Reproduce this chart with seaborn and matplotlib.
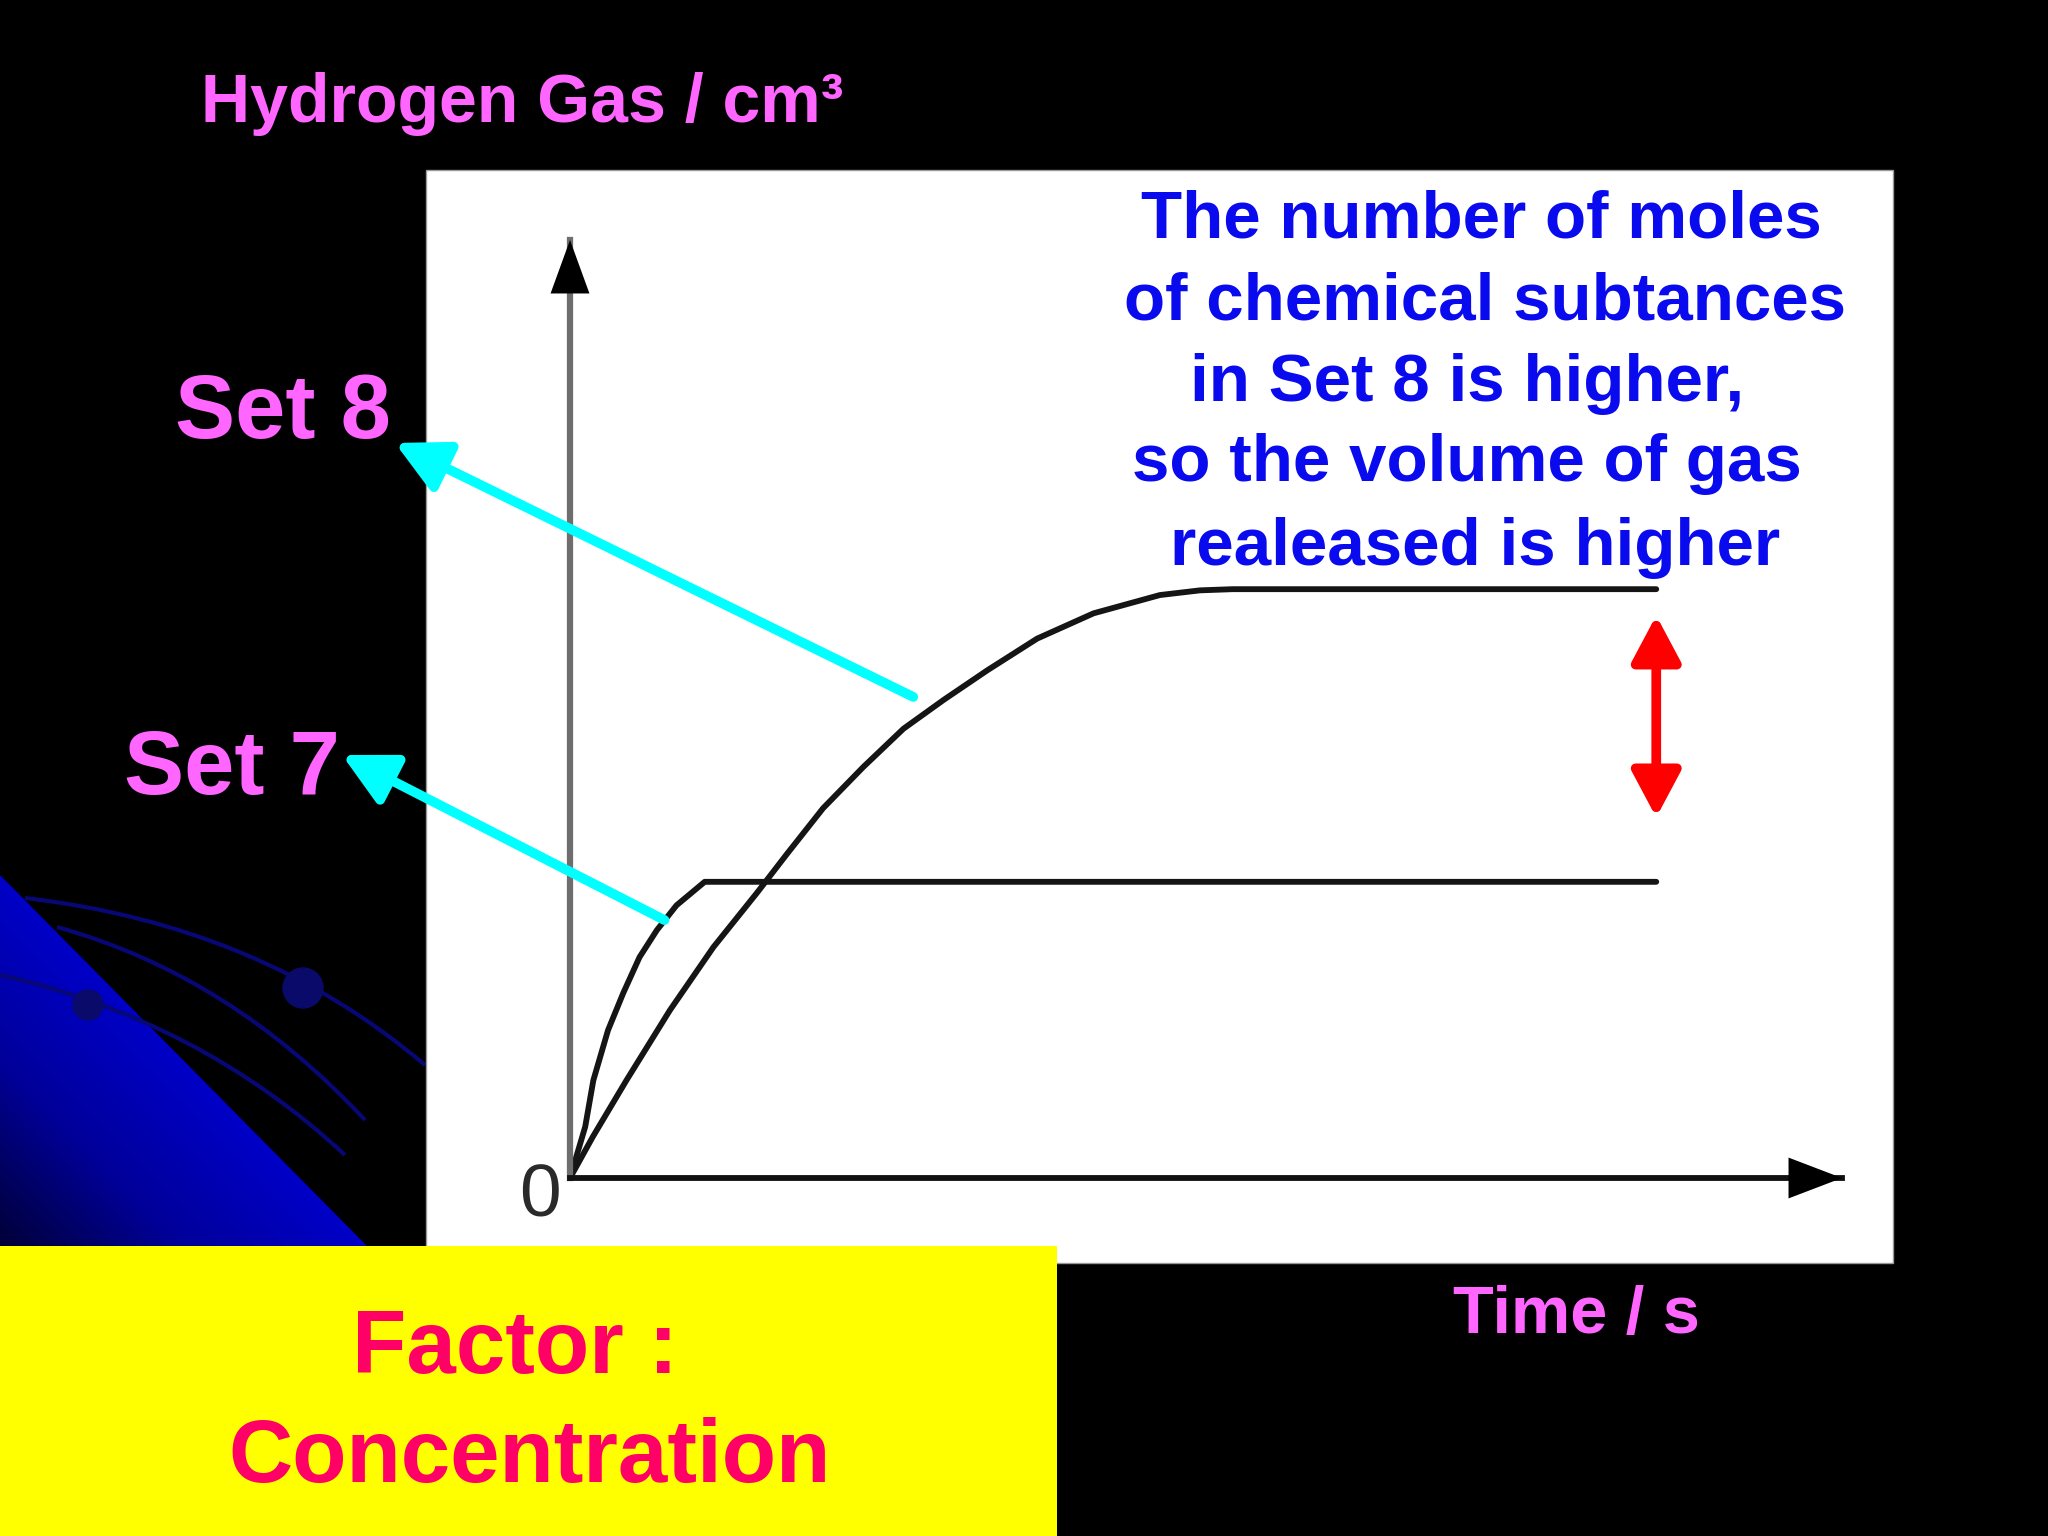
import numpy as np
import pandas as pd
import matplotlib
matplotlib.use("Agg")
import matplotlib.pyplot as plt
import seaborn as sns
from matplotlib.patches import Rectangle, Polygon, PathPatch, Circle
from matplotlib.path import Path
from matplotlib.colors import LinearSegmentedColormap

W, H = 2048, 1536

# ── Données (t et volume en unités arbitraires) ──
set7_time = [0, 1.4, 2.15, 3.5, 4.9, 6.4, 8.0, 9.8, 12.4, 100]
set7_vol  = [0, 8.7, 16.6, 25.1, 31.4, 37.5, 42.1, 46.3, 50.3, 50.3]
set8_time = [0, 2.1, 5.2, 9.2, 13.2, 17.2, 20.0, 23.3, 27.0, 30.7, 34.4, 38.4,
             43.0, 48.2, 54.3, 58.0, 61.0, 100]
set8_vol  = [0, 7.0, 16.6, 28.5, 39.2, 48.4, 55.1, 62.8, 69.8, 76.3, 81.2, 86.2,
             91.6, 95.9, 99.0, 99.8, 100, 100]
set_names = ["Set 7", "Set 8"]

y_title  = "Hydrogen Gas / cm³"
x_title  = "Time / s"
note_lines = ["The number of moles",
              "of chemical subtances",
              "in Set 8 is higher,",
              "so the volume of gas",
              "realeased is higher"]
factor_lines = ["Factor :", "Concentration"]

PINK   = "#FF66FF"
BLUE   = "#0A0AEE"
CYAN   = "#00FFFF"
RED    = "#FF0000"
YELLOW = "#FFFF00"
ROSE   = "#FF0066"


# ── Décor de la diapositive ───────────────────────────────────
def draw_slide(bg):
    # triangle bleu dégradé en bas à gauche
    tri = Polygon([(0, 875), (367, 1246), (0, 1246)], closed=True,
                  facecolor="none", edgecolor="none")
    bg.add_patch(tri)
    yy, xx = np.mgrid[870:1246:200j, 0:370:200j]
    depth = np.clip((yy - 875) / 371 - xx / 367, 0, 1)
    cmap = LinearSegmentedColormap.from_list("bl", ["#0000C8", "#00009A", "#000038"])
    im = bg.imshow(depth, extent=[0, 370, 1246, 870], cmap=cmap,
                   vmin=0, vmax=1, aspect="auto", zorder=1)
    im.set_clip_path(tri)

    # orbites
    arcs = [[(25, 898), (260, 925), (425, 1065)],
            [(57, 927), (230, 975), (365, 1120)],
            [(0, 975), (200, 1020), (345, 1155)]]
    for pts in arcs:
        p = Path(pts, [Path.MOVETO, Path.CURVE3, Path.CURVE3])
        bg.add_patch(PathPatch(p, facecolor="none", edgecolor="#070775",
                               lw=3, zorder=2))
    bg.add_patch(Circle((303, 988), 20, color="#0A0A6A", zorder=3))
    bg.add_patch(Circle((88, 1005), 15, color="#0A0A6A", zorder=3))

    # panneau blanc du graphique et encadré jaune
    bg.add_patch(Rectangle((426, 170), 1467, 1093, facecolor="white",
                           edgecolor="#999999", lw=1, zorder=4))
    bg.add_patch(Rectangle((0, 1246), 1057, 290, facecolor=YELLOW,
                           edgecolor="none", zorder=5))

    bg.set_xlim(0, W)
    bg.set_ylim(H, 0)
    bg.axis("off")


def draw_texts(bg):
    kw = dict(fontweight="bold", va="baseline", zorder=6)
    bg.text(201, 122, y_title, color=PINK, fontsize=49, ha="left", **kw)
    bg.text(1453, 1333, x_title, color=PINK, fontsize=48, ha="left", **kw)
    bg.text(175, 438, set_names[1], color=PINK, fontsize=65, ha="left", **kw)
    bg.text(124, 794, set_names[0], color=PINK, fontsize=65, ha="left", **kw)

    centers   = [1481, 1485, 1467, 1467, 1475]
    baselines = [238, 320, 401, 481, 565]
    for line, cx, by in zip(note_lines, centers, baselines):
        bg.text(cx, by, line, color=BLUE, fontsize=48.5, ha="center", **kw)

    bg.text(515, 1373, factor_lines[0], color=ROSE, fontsize=64, ha="center", **kw)
    bg.text(530, 1482, factor_lines[1], color=ROSE, fontsize=64, ha="center", **kw)


# ── Graphique ─────────────────────────────────────────────────
def draw_chart(fig, bg):
    # origine (570, 1178) px, pointes des axes à 1842 px et 240 px
    ax = fig.add_axes([570 / W, (H - 1178) / H, (1842 - 570) / W, (1178 - 240) / H],
                      zorder=10)
    ax.set_facecolor("none")

    df = pd.DataFrame({
        "time":   set7_time + set8_time,
        "volume": set7_vol + set8_vol,
        "set":    [set_names[0]] * len(set7_time) + [set_names[1]] * len(set8_time),
    })
    sns.lineplot(data=df, x="time", y="volume", hue="set", units="set",
                 estimator=None, sort=False, legend=False,
                 palette={set_names[0]: "#151515", set_names[1]: "#151515"},
                 lw=4.2, ax=ax)

    ax.set_xlim(0, 117.1)
    ax.set_ylim(0, 159.3)
    ax.set(xlabel="", ylabel="", xticks=[], yticks=[])
    for s in ["top", "right"]:
        ax.spines[s].set_visible(False)
    ax.spines["left"].set_color("#6E6E6E")
    ax.spines["left"].set_linewidth(4.5)
    ax.spines["bottom"].set_color("#111111")
    ax.spines["bottom"].set_linewidth(4.2)

    # pointes des axes
    head = dict(lw=0, color="black", shrinkA=0, shrinkB=0)
    ax.annotate("", xy=(1, 0), xytext=(0.9, 0), xycoords="axes fraction",
                arrowprops=dict(arrowstyle="-|>,head_length=0.55,head_width=0.21",
                                mutation_scale=70, **head))
    ax.annotate("", xy=(0, 1), xytext=(0, 0.9), xycoords="axes fraction",
                arrowprops=dict(arrowstyle="-|>,head_length=0.55,head_width=0.2",
                                mutation_scale=70, **head))

    ax.annotate("0", xy=(0, 0), xytext=(-30, -19), textcoords="offset pixels",
                ha="center", va="center", fontsize=54, color="#2A2A2A",
                annotation_clip=False)

    # double flèche rouge entre les deux paliers
    lo, hi = set7_vol[-1], set8_vol[-1]
    gap = hi - lo
    ax.annotate("", xy=(set7_time[-1], hi - 0.09 * gap),
                xytext=(set7_time[-1], lo + 0.22 * gap),
                arrowprops=dict(arrowstyle="<|-|>,head_length=0.62,head_width=0.33",
                                mutation_scale=45, lw=7, color=RED,
                                shrinkA=0, shrinkB=0))

    # flèches cyan vers les étiquettes
    cyan = dict(arrowstyle="-|>,head_length=0.7,head_width=0.36",
                mutation_scale=45, lw=7, color=CYAN, shrinkA=0, shrinkB=0)
    ax.annotate("", xy=(395, 443), xycoords=bg.transData,
                xytext=(set8_time[9] + 0.9, set8_vol[9] + 5.4), textcoords="data",
                arrowprops=cyan, annotation_clip=False)
    ax.annotate("", xy=(342, 755), xycoords=bg.transData,
                xytext=(set7_time[6] + 0.7, set7_vol[6] + 1.7), textcoords="data",
                arrowprops=cyan, annotation_clip=False)
    return ax


def main():
    sns.set_style("white")
    plt.rcParams["font.family"] = ["Liberation Sans", "DejaVu Sans"]

    fig = plt.figure(figsize=(W / 100, H / 100), dpi=100, facecolor="black")
    bg = fig.add_axes([0, 0, 1, 1], zorder=0)
    bg.set_facecolor("black")
    draw_slide(bg)
    draw_texts(bg)
    draw_chart(fig, bg)

    fig.savefig("out.png", dpi=100, facecolor="black")
    plt.close(fig)


if __name__ == "__main__":
    main()
